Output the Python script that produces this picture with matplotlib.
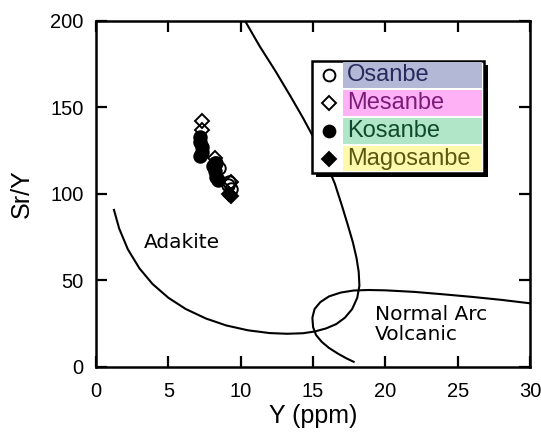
# Sr/Y vs Y discrimination diagram (adakite vs normal arc volcanic)

import matplotlib
matplotlib.use("Agg")
import matplotlib.pyplot as plt
from matplotlib.patches import Rectangle

plt.rcParams["font.family"] = ["Liberation Sans", "DejaVu Sans"]

# sample points
osanbe_x = [8.3, 8.5, 9.2, 9.3, 9.1]
osanbe_y = [118, 115, 107, 103, 105]
mesanbe_x = [7.3, 7.3, 8.2, 9.3]
mesanbe_y = [142, 137, 121, 107]
kosanbe_x = [7.2, 7.2, 7.3, 7.3, 7.2, 8.1, 8.2, 8.3, 8.4, 8.2]
kosanbe_y = [133, 130, 127, 124, 122, 116, 113, 110, 108, 118]
magosanbe_x = [9.2, 9.3]
magosanbe_y = [100, 99]

# field boundaries
adakite_x = [1.24, 1.6, 2.2, 3.0, 3.9, 5.0, 6.2, 7.6, 9.0, 10.5, 12.0, 13.2,
             14.3, 15.1, 15.9, 16.6, 17.2, 17.7, 18.05, 18.2, 18.15, 18.0,
             17.75, 17.4, 17.0, 16.5, 15.9, 15.2, 14.3, 13.4, 12.4, 11.3, 10.3]
adakite_y = [90.8, 80.0, 68.0, 57.0, 48.0, 40.0, 33.5, 28.0, 24.0, 21.2, 19.6, 19.2,
             19.5, 20.5, 22.3, 24.8, 28.5, 33.5, 40.0, 47.0, 55.0, 63.0,
             72.0, 82.0, 93.0, 106.0, 118.0, 130.0, 144.0, 157.0, 171.0, 185.5, 200.0]
arc_x = [30.0, 28.0, 26.0, 24.0, 22.0, 20.0, 18.8, 17.8, 16.9, 16.1, 15.5,
         15.1, 14.95, 15.0, 15.2, 15.6, 16.1, 16.7, 17.3, 17.8]
arc_y = [36.8, 38.8, 40.5, 42.0, 43.4, 44.3, 44.5, 44.2, 43.0, 40.8, 37.5,
         33.5, 28.5, 23.0, 18.5, 14.5, 11.0, 7.8, 5.0, 3.0]

# legend rows: label, marker, filled, band colour, text colour
legend_labels = ["Osanbe", "Mesanbe", "Kosanbe", "Magosanbe"]
legend_markers = ["o", "D", "o", "D"]
legend_filled = [False, False, True, True]
band_colors = ["#b3b8d6", "#ffb1f6", "#b1e6c8", "#fffaab"]
text_colors = ["#262a5c", "#7d1b7a", "#0e4a2b", "#5a5810"]

fig = plt.figure(figsize=(5.41, 4.32), dpi=100)
ax = fig.add_axes([0.1775, 0.1505, 0.8025, 0.801])

ax.plot(adakite_x, adakite_y, color="black", lw=1.5, zorder=2)
ax.plot(arc_x, arc_y, color="black", lw=1.5, zorder=2)

mk = dict(linestyle="none", markersize=9, markeredgewidth=1.4,
          markeredgecolor="black", zorder=4)
ax.plot(kosanbe_x, kosanbe_y, marker="o", markerfacecolor="black", **mk)
ax.plot(osanbe_x, osanbe_y, marker="o", markerfacecolor="none", **mk)
ax.plot(mesanbe_x, mesanbe_y, marker="D", markerfacecolor="none",
        **{**mk, "markersize": 7.5})
ax.plot(magosanbe_x, magosanbe_y, marker="D", markerfacecolor="black",
        **{**mk, "markersize": 7.5})

ax.text(3.3, 72, "Adakite", fontsize=14.5, family="DejaVu Sans", va="center")
ax.text(19.3, 30.5, "Normal Arc", fontsize=14.5, family="DejaVu Sans", va="center")
ax.text(19.3, 19, "Volcanic", fontsize=14.5, family="DejaVu Sans", va="center")

# hand-built legend box with coloured label bands
bx0, bx1, by0, by1 = 0.498, 0.894, 0.561, 0.884
band_x = 0.569
row_h = (by1 - by0) / 4
ax.add_patch(Rectangle((bx0 + 0.009, by0 - 0.012), bx1 - bx0, by1 - by0,
                       transform=ax.transAxes, facecolor="black",
                       edgecolor="none", zorder=5))
ax.add_patch(Rectangle((bx0, by0), bx1 - bx0, by1 - by0, transform=ax.transAxes,
                       facecolor="white", edgecolor="black", lw=1.8, zorder=6))
for i, label in enumerate(legend_labels):
    top = by1 - i * row_h
    ax.add_patch(Rectangle((band_x, top - row_h + 0.004), bx1 - band_x - 0.004,
                           row_h - 0.008, transform=ax.transAxes,
                           facecolor=band_colors[i], edgecolor="none", zorder=7))
    cy = top - row_h / 2
    ax.plot([0.537], [cy], transform=ax.transAxes, marker=legend_markers[i],
            markersize=8.5 if legend_markers[i] == "o" else 7,
            markerfacecolor="black" if legend_filled[i] else "white",
            markeredgecolor="black", markeredgewidth=1.4, linestyle="none",
            zorder=8, clip_on=False)
    ax.text(0.578, cy, label, transform=ax.transAxes, fontsize=17,
            color=text_colors[i], va="center", ha="left", zorder=8)

ax.set_xlim(0, 30)
ax.set_ylim(0, 200)
ax.set_xticks([0, 5, 10, 15, 20, 25, 30])
ax.set_yticks([0, 50, 100, 150, 200])
ax.tick_params(direction="in", length=8, width=1.6, labelsize=14.5, pad=9,
               top=True, right=True)
ax.tick_params(axis="x", pad=11)
for side in ax.spines.values():
    side.set_linewidth(1.8)

ax.set_xlabel("Y (ppm)", fontsize=18, labelpad=2)
ax.set_ylabel("Sr/Y", fontsize=18, labelpad=12)

fig.savefig("out.png", dpi=100)
